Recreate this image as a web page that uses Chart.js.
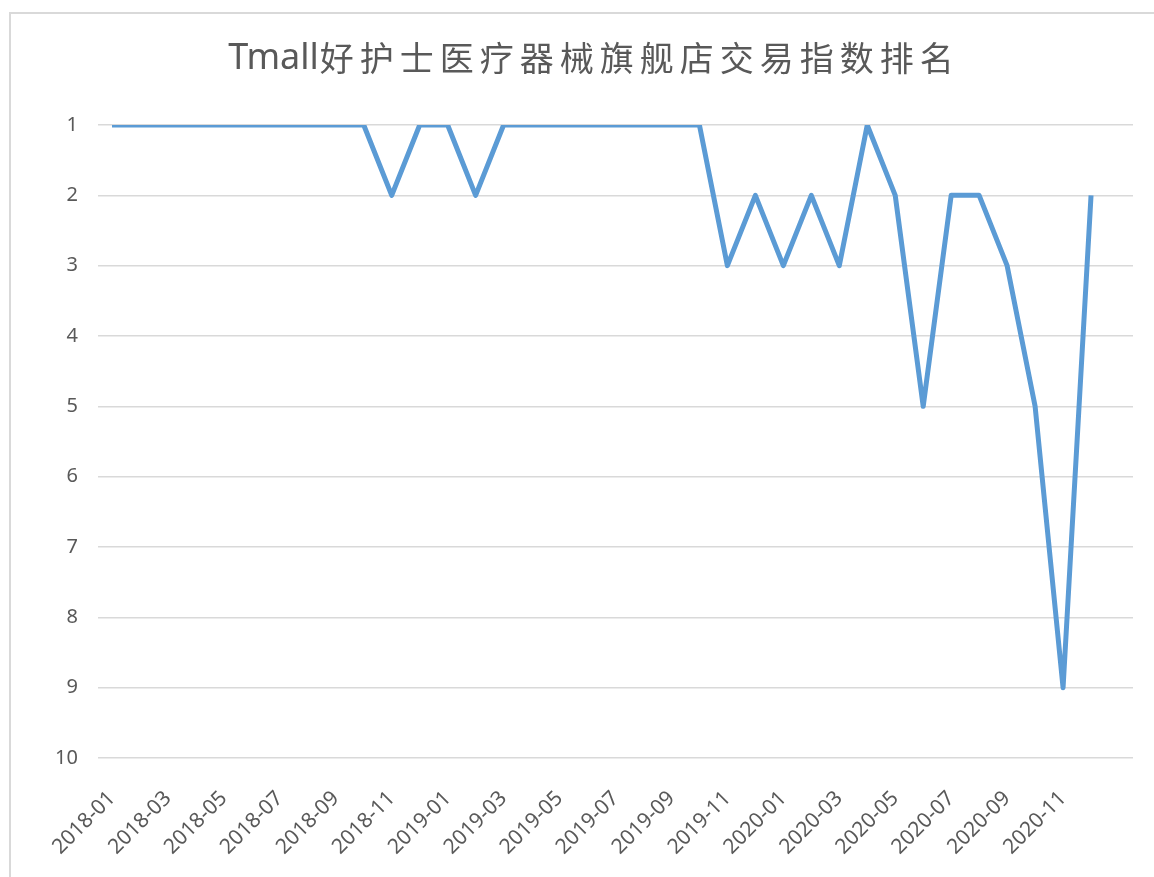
<!DOCTYPE html>
<html>
<head>
<meta charset="utf-8">
<script src="https://cdn.jsdelivr.net/npm/chart.js@4/dist/chart.umd.min.js"></script>
<style>
  html, body { margin: 0; padding: 0; background: #fff; overflow: hidden; }
  #frame { position: absolute; left: 9px; top: 12px; width: 1200px; height: 900px; border: 2px solid #d9d9d9; }
  #wrap { position: absolute; left: 0; top: 0; width: 1154px; height: 877px; }
</style>
</head>
<body>
<div id="frame"></div>
<div id="wrap"><canvas id="rankChart"></canvas></div>
<script>
const titleLatin = "Tmall";
const titleCjk = "好护士医疗器械旗舰店交易指数排名";

const months = [
  "2018-01", "2018-02", "2018-03", "2018-04", "2018-05", "2018-06",
  "2018-07", "2018-08", "2018-09", "2018-10", "2018-11", "2018-12",
  "2019-01", "2019-02", "2019-03", "2019-04", "2019-05", "2019-06",
  "2019-07", "2019-08", "2019-09", "2019-10", "2019-11", "2019-12",
  "2020-01", "2020-02", "2020-03", "2020-04", "2020-05", "2020-06",
  "2020-07", "2020-08", "2020-09", "2020-10", "2020-11", "2020-12",
];

const ranks = [
  1, 1, 1, 1, 1, 1, 1, 1, 1, 1, 2, 1,
  1, 2, 1, 1, 1, 1, 1, 1, 1, 1, 3, 2,
  3, 2, 3, 1, 2, 5, 2, 2, 3, 5, 9, 2,
];

const yTicks = [1, 2, 3, 4, 5, 6, 7, 8, 9, 10];

const grey = "#595959";

// title drawn by hand: latin part tight, chinese part spaced out
const titlePlugin = {
  id: "spacedTitle",
  afterDraw(chart) {
    const ctx = chart.ctx;
    ctx.save();
    ctx.fillStyle = grey;
    ctx.textBaseline = "middle";
    ctx.textAlign = "left";

    ctx.font = "36px 'Noto Sans', sans-serif";
    const wLatin = ctx.measureText(titleLatin).width;

    ctx.font = "34px 'Noto Sans CJK SC', sans-serif";
    ctx.letterSpacing = "6px";
    const wCjk = ctx.measureText(titleCjk).width - 6;

    const start = 591 - (wLatin + 1 + wCjk) / 2;
    ctx.fillText(titleCjk, start + wLatin + 1, 58);

    ctx.letterSpacing = "0px";
    ctx.font = "36px 'Noto Sans', sans-serif";
    ctx.fillText(titleLatin, start, 59);
    ctx.restore();
  },
};

const ctx = document.getElementById("rankChart");

new Chart(ctx, {
  type: "line",
  data: {
    labels: months.concat([""]),
    datasets: [
      {
        label: "排名",
        data: ranks,
        borderColor: "#5b9bd5",
        borderWidth: 5,
        pointRadius: 0,
        tension: 0,
        borderJoinStyle: "round",
        fill: false,
      },
    ],
  },
  options: {
    responsive: true,
    maintainAspectRatio: false,
    animation: false,
    layout: { padding: { top: 125, right: 21, left: 0, bottom: 0 } },
    plugins: {
      legend: { display: false },
      title: { display: false },
      tooltip: { enabled: false },
    },
    scales: {
      x: {
        offset: true,
        afterFit: (scale) => {
          scale.height = 119;
          scale.paddingLeft = 0;
          scale.paddingRight = 0;
        },
        grid: { display: false, drawTicks: false },
        border: { display: false },
        ticks: {
          autoSkip: false,
          minRotation: 45,
          maxRotation: 45,
          padding: 28,
          color: grey,
          font: { family: "'Noto Sans', sans-serif", size: 21 },
          callback: function (value, index) {
            return index % 2 === 0 ? this.getLabelForValue(value) : "";
          },
        },
      },
      y: {
        reverse: true,
        min: 1,
        max: 10,
        afterFit: (scale) => { scale.width = 98; },
        afterBuildTicks: (scale) => {
          scale.ticks = yTicks.map((v) => ({ value: v }));
        },
        grid: { color: "#d9d9d9", lineWidth: 1.5, drawTicks: false },
        border: { display: false },
        ticks: {
          padding: 20,
          color: grey,
          font: { family: "'Noto Sans', sans-serif", size: 20 },
        },
      },
    },
  },
  plugins: [titlePlugin],
});
</script>
</body>
</html>
